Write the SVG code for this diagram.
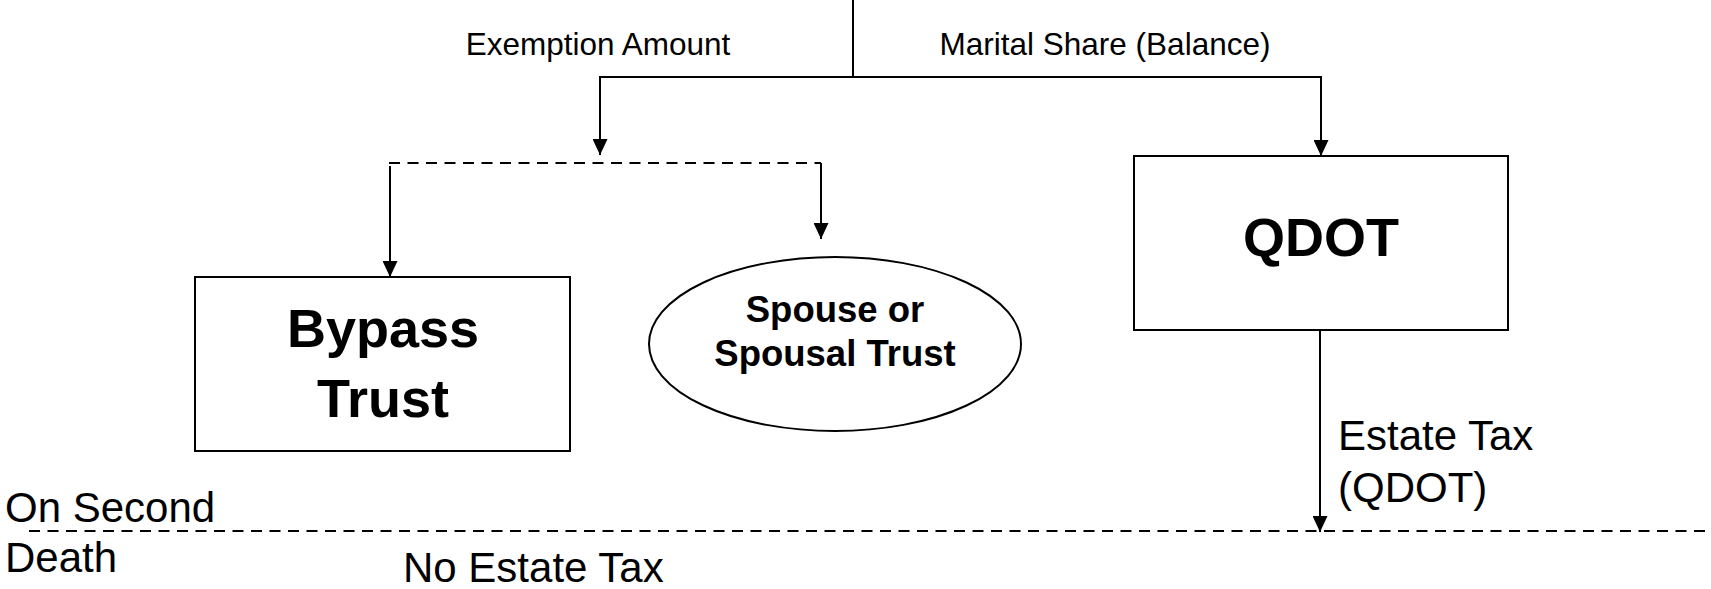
<svg xmlns="http://www.w3.org/2000/svg" width="1711" height="589" viewBox="0 0 1711 589">
  <style>
    .box { fill: #ffffff; stroke: #000000; stroke-width: 2; }
    .line { fill: none; stroke: #000000; stroke-width: 2; }
    .dash { fill: none; stroke: #000000; stroke-width: 2; stroke-dasharray: 11 7.5; }
    .lbl { font-family: "Liberation Sans", Arial, sans-serif; fill: #000000; }
    .small { font-size: 31.5px; }
    .reg { font-size: 42px; }
    .big { font-family: "Liberation Sans", Arial, sans-serif; font-weight: bold; font-size: 54px; fill: #000000; text-anchor: middle; }
    .mid { font-family: "Liberation Sans", Arial, sans-serif; font-weight: bold; font-size: 36.5px; fill: #000000; text-anchor: middle; }
  </style>
  <defs>
    <!-- filled triangular arrowhead, drawn along +x so orient="auto" points it down the line -->
    <marker id="arrow" viewBox="0 0 16 15" refX="16" refY="7.5" markerWidth="16" markerHeight="15" markerUnits="userSpaceOnUse" orient="auto">
      <path d="M0,0 L16,7.5 L0,15 Z" fill="#000000"/>
    </marker>
  </defs>
  <rect width="1711" height="589" fill="#ffffff"/>

  <!-- connectors -->
  <g id="connectors">
    <path class="line" d="M853,0 V77"/>
    <path class="line" d="M600,77 H1321"/>
    <path class="line" d="M600,76 V155" marker-end="url(#arrow)"/>
    <path class="line" d="M1321,76 V156" marker-end="url(#arrow)"/>
    <path class="dash" d="M389,163 H821"/>
    <path class="line" d="M390,166 V277" marker-end="url(#arrow)"/>
    <path class="line" d="M821,163 V239" marker-end="url(#arrow)"/>
    <path class="line" d="M1320,330 V532" marker-end="url(#arrow)"/>
    <path class="dash" d="M29,531 H1711"/>
  </g>

  <!-- branch labels -->
  <g id="labels">
    <text class="lbl small" x="598" y="55" text-anchor="middle">Exemption Amount</text>
    <text class="lbl small" x="1105" y="55" text-anchor="middle">Marital Share (Balance)</text>
    <text class="lbl reg" x="1338" y="450">Estate Tax</text>
    <text class="lbl reg" x="1338" y="502">(QDOT)</text>
    <text class="lbl reg" x="5" y="522">On Second</text>
    <text class="lbl reg" x="5" y="572">Death</text>
    <text class="lbl reg" x="403" y="582">No Estate Tax</text>
  </g>

  <g id="bypass-trust">
    <rect class="box" x="195" y="277" width="375" height="174"/>
    <text class="big" x="383" y="347">Bypass</text>
    <text class="big" x="383" y="417">Trust</text>
  </g>

  <g id="spousal-trust">
    <ellipse class="box" cx="835" cy="344" rx="186" ry="87"/>
    <text class="mid" x="835" y="322">Spouse or</text>
    <text class="mid" x="835" y="366">Spousal Trust</text>
  </g>

  <g id="qdot">
    <rect class="box" x="1134" y="156" width="374" height="174"/>
    <text class="big" x="1321" y="256">QDOT</text>
  </g>
</svg>
